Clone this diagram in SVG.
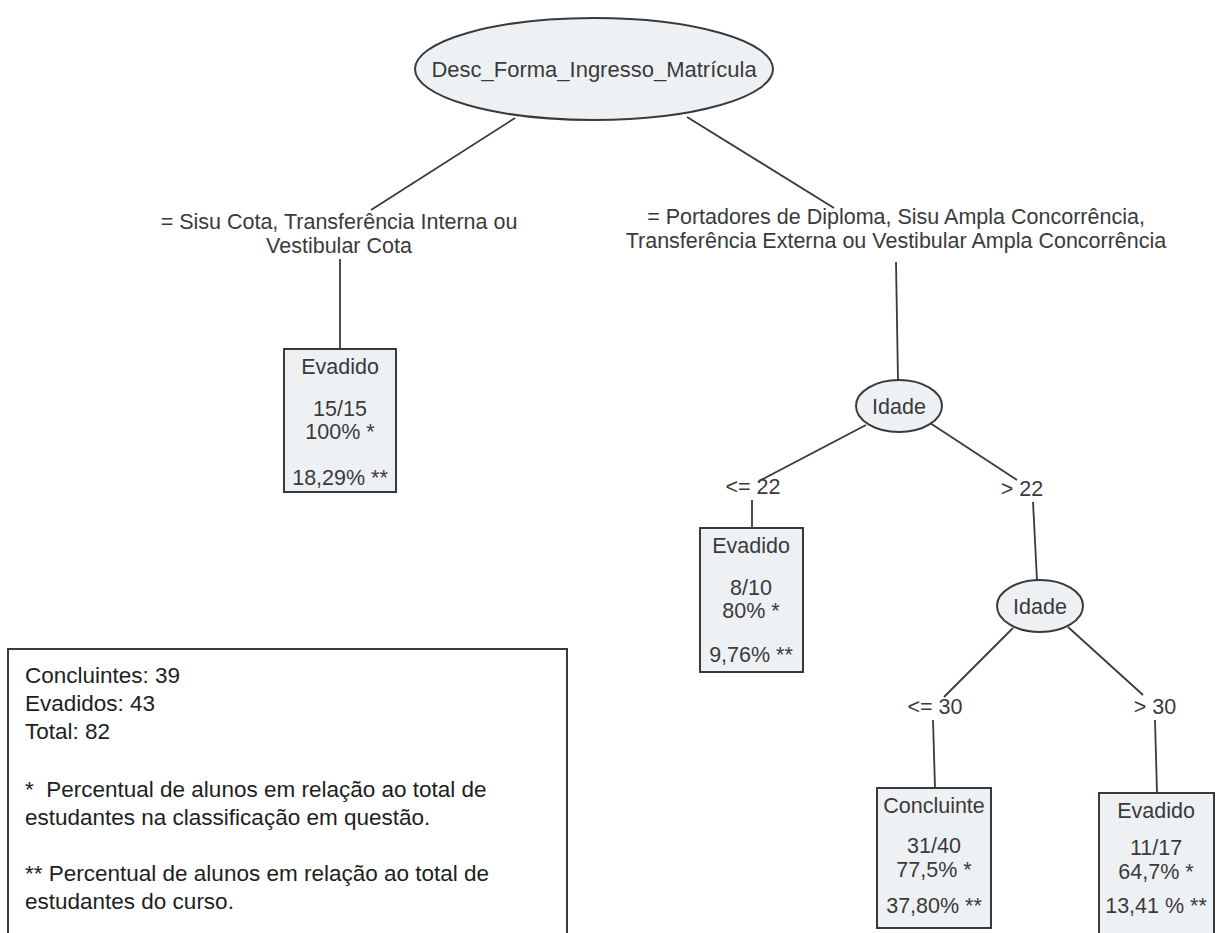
<svg xmlns="http://www.w3.org/2000/svg" width="1217" height="933" viewBox="0 0 1217 933">
  <style>
    .bg { fill: #ffffff; }
    .node { fill: #eef1f4; stroke: #3a3a3a; stroke-width: 2; }
    .edge { stroke: #3a3a3a; stroke-width: 1.8; fill: none; }
    .t { font-family: "Liberation Sans", Arial, sans-serif; font-size: 21.5px; fill: #3a3a3a; text-anchor: middle; }
    .root { font-size: 22px; }
    .legend-box { fill: #ffffff; stroke: #3a3a3a; stroke-width: 2; }
    .lg { font-family: "Liberation Sans", Arial, sans-serif; font-size: 22.5px; fill: #1e1e1e; }
  </style>
  <rect class="bg" x="0" y="0" width="1217" height="933"/>

  <!-- connectors -->
  <g id="connectors">
    <line class="edge" x1="515" y1="118" x2="371" y2="210"/>
    <line class="edge" x1="687" y1="117" x2="834" y2="208"/>
    <line class="edge" x1="340" y1="259" x2="340" y2="349"/>
    <line class="edge" x1="896" y1="262" x2="898" y2="381"/>
    <line class="edge" x1="866" y1="425" x2="759" y2="481"/>
    <line class="edge" x1="930" y1="423" x2="1017" y2="480"/>
    <line class="edge" x1="752" y1="500" x2="752" y2="528"/>
    <line class="edge" x1="1033" y1="502" x2="1037" y2="580"/>
    <line class="edge" x1="1013" y1="628" x2="944" y2="697"/>
    <line class="edge" x1="1068" y1="627" x2="1143" y2="695"/>
    <line class="edge" x1="933" y1="720" x2="935" y2="788"/>
    <line class="edge" x1="1155" y1="720" x2="1157" y2="793"/>
  </g>

  <!-- edge labels -->
  <g id="edge-labels">
    <text class="t" x="339" y="229">= Sisu Cota, Transferência Interna ou</text>
    <text class="t" x="339" y="253">Vestibular Cota</text>
    <text class="t" x="896" y="224">= Portadores de Diploma, Sisu Ampla Concorrência,</text>
    <text class="t" x="896" y="248">Transferência Externa ou Vestibular Ampla Concorrência</text>
    <text class="t" x="753" y="494">&lt;= 22</text>
    <text class="t" x="1022" y="496">&gt; 22</text>
    <text class="t" x="935" y="714">&lt;= 30</text>
    <text class="t" x="1155" y="714">&gt; 30</text>
  </g>

  <g id="root">
    <ellipse class="node" cx="594" cy="69" rx="179" ry="51"/>
    <text class="t root" x="594" y="77">Desc_Forma_Ingresso_Matrícula</text>
  </g>

  <g id="leaf-a">
    <rect class="node" x="284" y="349" width="112" height="143"/>
    <text class="t" x="340" y="374">Evadido</text>
    <text class="t" x="340" y="416">15/15</text>
    <text class="t" x="340" y="439">100% *</text>
    <text class="t" x="340" y="485">18,29% **</text>
  </g>

  <g id="idade-1">
    <ellipse class="node" cx="899" cy="406" rx="43" ry="26"/>
    <text class="t" x="899" y="414">Idade</text>
  </g>

  <g id="leaf-b">
    <rect class="node" x="700" y="528" width="103" height="144"/>
    <text class="t" x="751" y="553">Evadido</text>
    <text class="t" x="751" y="595">8/10</text>
    <text class="t" x="751" y="618">80% *</text>
    <text class="t" x="751" y="662">9,76% **</text>
  </g>

  <g id="idade-2">
    <ellipse class="node" cx="1040" cy="606" rx="43" ry="26"/>
    <text class="t" x="1040" y="614">Idade</text>
  </g>

  <g id="leaf-c">
    <rect class="node" x="877" y="788" width="114" height="140"/>
    <text class="t" x="934" y="813">Concluinte</text>
    <text class="t" x="934" y="853">31/40</text>
    <text class="t" x="934" y="877">77,5% *</text>
    <text class="t" x="934" y="913">37,80% **</text>
  </g>

  <g id="leaf-d">
    <rect class="node" x="1099" y="793" width="115" height="150"/>
    <text class="t" x="1156" y="818">Evadido</text>
    <text class="t" x="1156" y="855">11/17</text>
    <text class="t" x="1156" y="879">64,7% *</text>
    <text class="t" x="1156" y="913">13,41 % **</text>
  </g>

  <g id="legend">
    <rect class="legend-box" x="8" y="649" width="559" height="300"/>
    <text class="lg" x="25" y="683">Concluintes: 39</text>
    <text class="lg" x="25" y="711">Evadidos: 43</text>
    <text class="lg" x="25" y="739">Total: 82</text>
    <text class="lg" x="25" y="797" xml:space="preserve">*  Percentual de alunos em relação ao total de</text>
    <text class="lg" x="25" y="825">estudantes na classificação em questão.</text>
    <text class="lg" x="25" y="881">** Percentual de alunos em relação ao total de</text>
    <text class="lg" x="25" y="909">estudantes do curso.</text>
  </g>
</svg>
